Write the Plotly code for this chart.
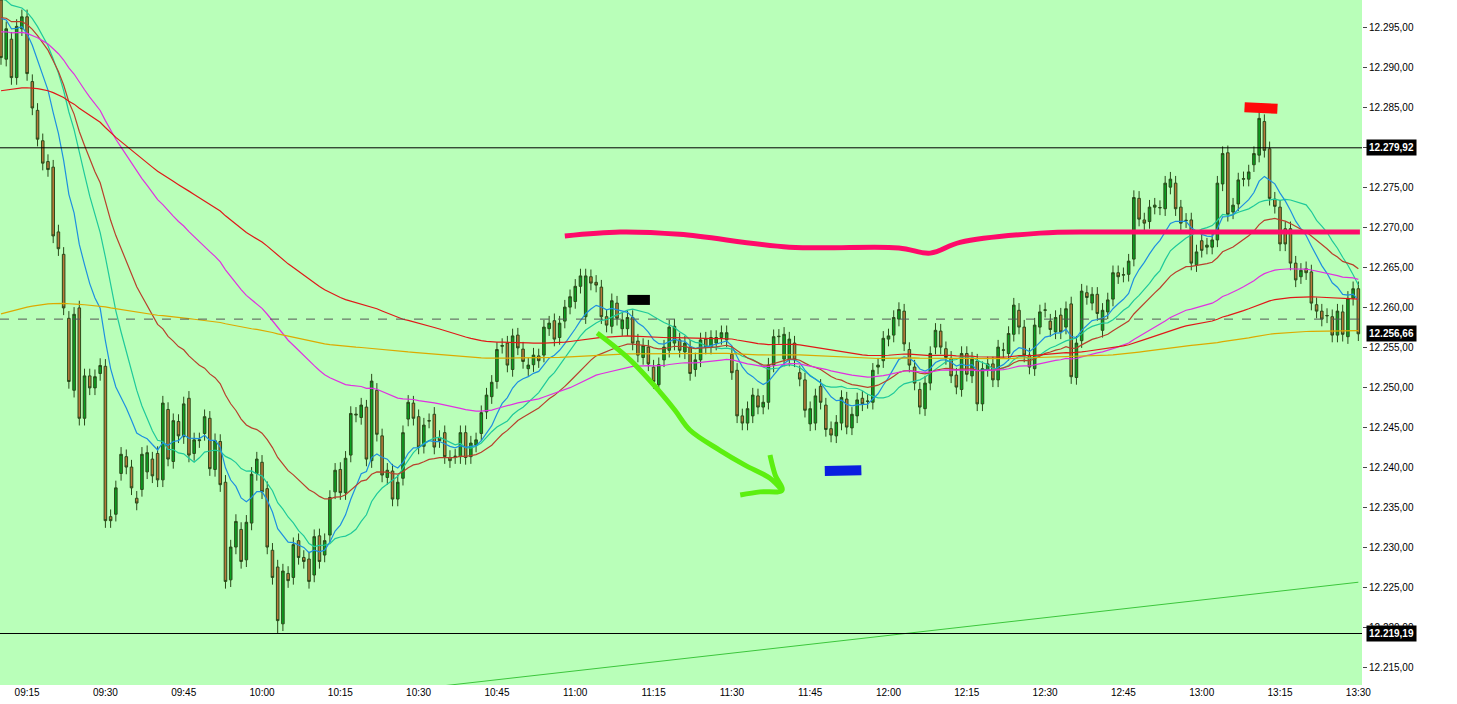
import plotly.graph_objects as go
import numpy as np

# 1-minute candles 09:10 .. 13:30 (index 0..260)
opens = [12298.4,12291.0,12293.5,12288.7,12294.8,12296.3,12288.2,12284.6,12280.8,12278.2,
12277.5,12269.4,12266.6,12258.6,12249.6,12259.9,12246.1,12251.4,12249.9,12251.7,
12252.6,12233.8,12234.1,12239.2,12241.3,12240.0,12236.1,12237.2,12239.4,12241.0,
12241.7,12238.4,12247.2,12240.7,12245.7,12243.8,12248.6,12241.7,12243.3,12244.2,
12246.1,12239.7,12243.2,12238.1,12225.9,12230.0,12232.2,12228.4,12233.0,12239.2,
12240.6,12237.3,12229.6,12227.5,12220.4,12226.7,12226.2,12230.8,12228.7,12228.5,
12226.5,12231.4,12229.0,12231.5,12236.9,12239.7,12236.8,12241.5,12246.5,12246.2,
12247.5,12240.8,12249.6,12243.9,12238.7,12239.5,12236.0,12238.6,12246.0,12248.0,
12246.3,12242.6,12245.75,12246.6,12243.7,12244.3,12241.2,12241.3,12241.3,12244.3,
12241.3,12242.75,12244.2,12246.9,12248.8,12250.7,12255.1,12255.5,12252.2,12256.5,
12254.75,12252.3,12252.8,12253.9,12254.0,12257.3,12258.3,12256.2,12258.25,12260.0,
12260.7,12262.6,12258.8,12263.8,12263.1,12262.5,12258.8,12257.6,12260.5,12257.3,
12257.3,12258.7,12255.75,12253.7,12255.0,12252.5,12250.3,12253.4,12254.6,12255.5,
12255.9,12254.4,12255.0,12252.2,12253.4,12256.0,12255.0,12255.5,12256.2,12255.9,
12254.1,12252.1,12246.4,12245.5,12246.4,12248.9,12247.5,12248.1,12252.75,12256.3,
12253.5,12253.5,12255.5,12251.8,12250.9,12245.4,12245.5,12250.1,12247.75,12244.8,
12243.9,12245.5,12248.5,12244.9,12246.4,12248.6,12248.2,12248.1,12252.5,12253.3,
12256.0,12256.5,12258.5,12259.5,12254.7,12252.5,12249.7,12247.3,12250.5,12255.0,
12257.0,12254.8,12253.6,12251.5,12249.7,12254.2,12251.4,12253.25,12247.9,12252.2,
12252.9,12250.9,12254.6,12254.2,12256.6,12259.6,12257.5,12254.0,12252.3,12257.5,
12259.6,12258.25,12256.9,12259.0,12257.5,12260.4,12251.2,12255.8,12261.8,12260.5,
12261.6,12257.1,12259.4,12261.0,12264.3,12264.0,12264.1,12266.0,12273.6,12270.9,
12270.7,12272.5,12272.4,12272.3,12275.0,12275.5,12272.5,12270.8,12270.9,12265.3,
12268.3,12267.5,12267.5,12268.4,12275.4,12279.3,12271.9,12272.9,12276.0,12276.0,
12277.8,12279.0,12283.2,12279.8,12273.5,12272.5,12269.8,12269.8,12265.5,12263.8,
12264.8,12264.4,12260.3,12259.5,12258.9,12258.8,12256.5,12259.4,12256.3,12261.1,
12262.3]
closes = [12291.2,12294.8,12288.7,12295.1,12296.3,12289.2,12284.9,12281.0,12278.0,12277.2,
12268.9,12267.3,12259.9,12250.7,12259.1,12246.1,12251.4,12249.9,12251.3,12252.7,
12233.3,12233.3,12237.4,12241.6,12240.0,12237.4,12235.5,12241.6,12241.8,12238.9,
12238.4,12248.0,12241.0,12245.8,12243.9,12247.9,12241.5,12243.4,12243.4,12246.3,
12239.8,12243.3,12237.8,12225.7,12230.0,12233.2,12228.2,12233.1,12239.1,12241.0,
12236.9,12230.0,12226.2,12220.8,12227.0,12225.8,12230.3,12228.7,12228.2,12225.7,
12231.3,12228.2,12230.8,12236.2,12239.6,12236.8,12241.1,12246.7,12246.6,12247.75,
12241.0,12250.75,12244.1,12239.0,12239.6,12236.0,12238.1,12244.3,12248.1,12246.1,
12242.5,12245.25,12245.8,12242.5,12243.3,12241.3,12240.8,12241.35,12244.3,12241.2,
12243.0,12243.4,12246.8,12249.0,12250.6,12254.7,12255.2,12252.75,12256.4,12254.9,
12253.2,12252.75,12254.0,12253.3,12257.5,12258.0,12256.0,12258.0,12260.0,12261.3,
12262.6,12263.9,12263.9,12263.0,12262.75,12258.8,12257.75,12260.8,12258.6,12258.4,
12258.7,12255.5,12254.0,12255.2,12252.9,12250.7,12252.8,12255.0,12257.5,12257.6,
12254.6,12255.5,12251.7,12253.4,12255.9,12255.0,12256.2,12256.2,12256.8,12256.8,
12251.8,12246.4,12245.5,12247.3,12249.0,12247.5,12248.1,12252.75,12256.3,12256.35,
12256.6,12256.0,12253.4,12251.0,12247.1,12247.3,12248.9,12248.1,12244.7,12244.0,
12245.6,12248.7,12245.0,12246.6,12248.4,12247.9,12248.25,12252.1,12252.75,12256.1,
12256.4,12258.7,12259.7,12255.4,12252.75,12250.5,12247.5,12250.5,12254.2,12257.1,
12255.0,12253.7,12251.4,12250.0,12254.2,12251.6,12253.5,12247.9,12252.3,12252.9,
12250.9,12255.0,12254.65,12256.7,12260.25,12257.5,12254.0,12252.5,12257.75,12259.4,
12259.65,12257.2,12258.7,12256.9,12259.8,12251.3,12255.5,12262.0,12261.2,12261.6,
12259.2,12259.6,12260.9,12264.3,12263.8,12264.05,12265.75,12273.7,12271.0,12270.5,
12272.5,12272.75,12272.45,12275.5,12276.0,12272.3,12270.5,12270.85,12265.5,12266.9,
12267.1,12267.75,12268.4,12275.5,12279.2,12271.6,12272.75,12275.9,12276.05,12276.9,
12279.2,12283.6,12279.6,12273.6,12272.6,12267.9,12267.9,12265.5,12263.4,12264.6,
12264.3,12260.5,12259.5,12258.5,12258.95,12256.5,12259.5,12256.6,12261.1,12262.3,
12256.66]
n = min(len(opens), len(closes))
opens, closes = opens[:n], closes[:n]
idx = list(range(n))
wick = 0.9
highs = [max(o, c) + wick for o, c in zip(opens, closes)]
lows = [min(o, c) - wick for o, c in zip(opens, closes)]
highs[min(241, n-1)] = 12284.4
lows[53] = 12219.2

tick_idx = list(range(5, 261, 15))
tick_txt = ["09:15","09:30","09:45","10:00","10:15","10:30","10:45","11:00","11:15","11:30",
            "11:45","12:00","12:15","12:30","12:45","13:00","13:15","13:30"]
y_ticks = list(range(12215, 12296, 5))
level_hi, level_lo, last_px, dash_px = 12279.92, 12219.19, 12256.66, 12258.5
long_ma_x, long_ma_y = [80, 260], [12212.3, 12225.6]

def ema(vals, period, seed):
    a = 2.0 / (period + 1)
    out, e = [], seed
    for v in vals:
        e = e + a * (v - e)
        out.append(e)
    return out

def sma(vals, period, seed):
    buf = [seed] * period
    out = []
    for v in vals:
        buf = buf[1:] + [v]
        out.append(sum(buf) / period)
    return out

mas = [
    (sma(closes, 18, 12299.0), "#1fc99a"),
    (ema(closes, 12, 12297.0), "#1e8fe0"),
    (ema(closes, 34, 12296.5), "#b8402c"),
    (ema(closes, 80, 12294.5), "#e030e0"),
    (ema(closes, 150, 12287.0), "#e01818"),
    (ema(closes, 400, 12259.0), "#dcaa00"),
]

def fmt(v):
    s = f"{v:,.2f}"
    return s.replace(",", "X").replace(".", ",").replace("X", ".")

fig = go.Figure()
fig.add_trace(go.Scatter(x=long_ma_x, y=long_ma_y, mode="lines", line=dict(color="#3cc63c", width=1)))
for vals, col in mas:
    fig.add_trace(go.Scatter(x=idx, y=vals, mode="lines", line=dict(color=col, width=1.2)))
fig.add_trace(go.Candlestick(x=idx, open=opens, high=highs, low=lows, close=closes,
    increasing=dict(line=dict(color="#2a4a1a", width=1), fillcolor="#0aa020"),
    decreasing=dict(line=dict(color="#2a4a1a", width=1), fillcolor="#b8783a"),
    whiskerwidth=0))

# hand-drawn marks
pink_x = [108, 118.6, 130, 151, 172, 178, 183.7, 199, 210.5, 260.3]
pink_y = [12268.9, 12269.4, 12269.1, 12267.5, 12267.4, 12266.75, 12268.1, 12269.25, 12269.4, 12269.4]
arrow_x = [114.2, 120.5, 126.2, 129.1, 132, 137.7, 142.5, 147.3, 149.6, None, 141.6, 145.4, 149.6, 148.3, 147.3]
arrow_y = [12256.75, 12253.4, 12249.4, 12247.1, 12244.6, 12242.1, 12240.25, 12238.6, 12237.1, None,
           12236.5, 12236.9, 12237.1, 12239.0, 12241.5]
blobs = [([120, 124.3], [12260.9, 12260.9], "#000000"),
         ([157.8, 164.8], [12239.5, 12239.6], "#0a1ee0"),
         ([238.2, 244.5], [12285.0, 12284.8], "#ff0a0a")]
fig.add_trace(go.Scatter(x=pink_x, y=pink_y, mode="lines", line=dict(color="#ff0a6a", width=5, shape="spline")))
fig.add_trace(go.Scatter(x=arrow_x, y=arrow_y, mode="lines", line=dict(color="#5cef10", width=5, shape="spline")))
for bx, by, bc in blobs:
    fig.add_trace(go.Scatter(x=bx, y=by, mode="lines", line=dict(color=bc, width=10)))

for lv in (level_hi, level_lo):
    fig.add_hline(y=lv, line=dict(color="black", width=1))
fig.add_hline(y=dash_px, line=dict(color="#555555", width=1, dash="dash"))
for lv in (level_hi, level_lo, last_px):
    fig.add_annotation(x=1.003, xref="paper", y=lv, yref="y", xanchor="left", text="<b>" + fmt(lv) + "</b>",
                       showarrow=False, bgcolor="black", font=dict(color="white", size=10, family="Arial"),
                       borderpad=2)

fig.update_layout(width=1457, height=704, margin=dict(l=0, r=95, t=0, b=19, autoexpand=False),
                  plot_bgcolor="#b9ffb9", paper_bgcolor="white", showlegend=False,
                  font=dict(family="Arial", size=10, color="black"))
fig.update_xaxes(range=[-0.19, 260.7], tickvals=tick_idx, ticktext=tick_txt, showgrid=False,
                 rangeslider=dict(visible=False), ticks="", ticklen=0, zeroline=False, automargin=False)
fig.update_yaxes(range=[12212.75, 12298.4], side="right", tickvals=y_ticks,
                 ticktext=[fmt(v) for v in y_ticks], showgrid=False, ticks="outside", ticklen=4,
                 zeroline=False, automargin=False)
fig.write_html("out.html", config={"displayModeBar": False},
               post_script="document.body.style.margin='0';document.body.style.overflow='hidden';")
